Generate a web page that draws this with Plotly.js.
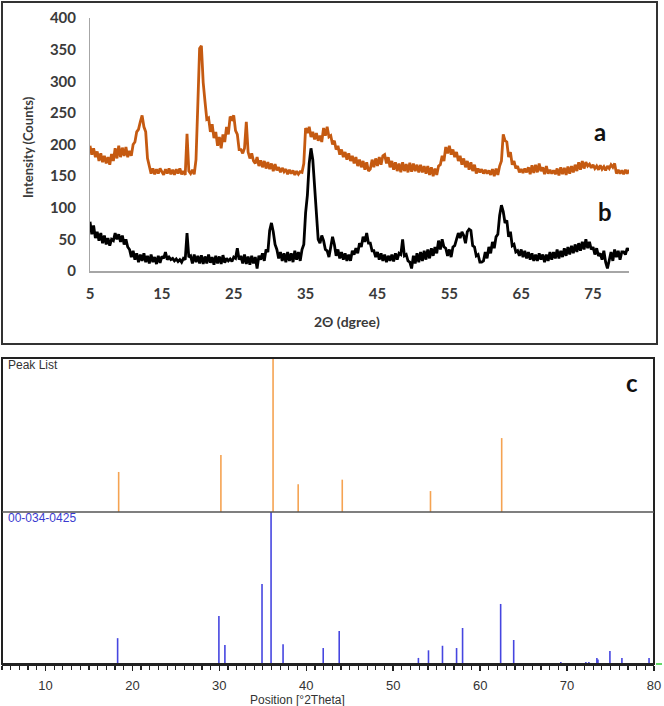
<!DOCTYPE html>
<html>
<head>
<meta charset="utf-8">
<script src="https://cdn.plot.ly/plotly-3.0.1.min.js"></script>
<style>html,body{margin:0;padding:0;background:#fff;}#chart{width:664px;height:706px;}</style>
</head>
<body>
<div id="chart"></div>
<script>
// ---- Top panel: XRD scans (2θ grid: start 5°, step 0.25°) ----
const scanStart = 5;
const scanStep = 0.25;

// sample a (orange)
const seriesA = [
  198,184,194,180, 189,174,186,172, 182,170,180,168, 185,174,194,178, 198,180,195,182,
  196,180,190,182, 200,204,220,224, 236,246,228,220, 178,164,154,162, 153,161,154,162,
  156,152,161,154, 162,153,160,152, 161,154,162,153, 158,152,217,158, 154,160,153,176,
  262,352,356,298, 268,240,242,220, 232,210,220,198, 212,194,216,204, 228,216,244,240,
  246,222,216,192, 192,186,194,236, 188,178,186,174, 170,180,166,175, 164,174,162,172,
  161,170,158,169, 159,164,156,163, 157,161,153,160, 154,159,152,158, 153,157,156,170,
  226,218,228,212, 220,208,218,206, 214,204,226,214, 228,212,214,200, 206,192,198,184,
  192,180,188,176, 186,174,182,170, 180,166,176,164, 174,160,172,158, 161,176,164,178,
  166,180,168,182, 184,170,180,164, 174,160,172,158, 170,156,172,158, 169,156,171,157,
  170,158,168,156, 168,156,166,154, 166,152,164,150, 162,152,166,168, 182,174,196,186,
  198,184,192,180, 188,174,182,168, 178,164,174,160, 172,158,168,154, 162,156,161,154,
  160,154,159,152, 161,150,162,152, 166,174,216,206, 204,180,188,168, 174,162,166,156,
  161,155,162,156, 164,153,167,155, 168,156,170,158, 164,153,166,154, 160,154,159,153,
  162,151,164,153, 163,152,165,154, 166,156,168,158, 172,160,174,162, 172,166,169,163,
  168,162,166,160, 167,161,165,159, 166,162,168,164, 170,154,160,154, 159,153,160,154,
  160
];

// sample b (black)
const seriesB = [
  78,58,72,52, 62,48,60,44, 56,42,52,40, 50,48,60,50, 58,46,56,42,
  50,38,34,22, 32,18,28,14, 26,16,28,14, 24,12,26,14, 22,11,24,13,
  23,20,30,18, 22,18,20,16, 19,15,18,14, 20,18,60,22, 24,12,26,14,
  24,12,25,11, 23,12,26,13, 22,10,24,12, 23,11,25,13, 20,16,19,15,
  22,20,36,18, 24,12,26,11, 23,10,24,12, 22,4,24,18, 28,16,34,30,
  64,76,62,42, 34,20,30,16, 28,14,30,16, 28,14,32,18, 30,16,34,42,
  92,120,170,194, 176,134,80,50, 44,56,48,34, 32,22,38,54, 42,24,34,20,
  30,18,28,16, 26,16,32,26, 36,28,44,38, 54,46,60,44, 44,32,32,22,
  30,18,28,16, 26,14,24,16, 26,15,28,18, 28,26,50,24, 26,16,14,4,
  24,12,28,14, 30,16,32,18, 34,20,36,24, 38,28,48,34, 50,38,36,24,
  34,22,38,40, 50,60,52,62, 56,44,62,66, 64,40,38,24, 26,14,14,16,
  30,20,38,28, 46,36,54,58, 88,104,94,76, 80,54,62,40, 42,30,32,24,
  34,22,32,20, 30,18,28,16, 26,16,28,18, 26,14,26,16, 30,18,30,20,
  34,20,32,22, 36,24,38,26, 40,28,42,30, 44,32,46,34, 50,36,46,34,
  38,26,36,24, 28,18,32,14, 4,18,30,16, 34,22,32,18, 30,30,26,36,
  32
];

const topTickVals = [5, 15, 25, 35, 45, 55, 65, 75];
const topTickText = ['5', '15', '25', '35', '45', '55', '65', '75'];

// ---- Bottom panel: peak list (orange) and reference 00-034-0425 (blue) ----
const peakPos = [18.42, 30.18, 36.18, 39.07, 44.14, 54.29, 62.48];
const peakRel = [26, 37, 100, 18, 21, 13.6, 48];

const refPos = [18.30, 29.95, 30.64, 34.91, 35.95, 37.33, 41.95, 43.79, 52.90, 54.06, 55.67,
                57.29, 57.98, 62.36, 63.86, 69.28, 72.16, 72.51, 73.43, 73.55, 74.93, 76.31, 79.43];
const refRel = [17, 31.6, 12.5, 52.6, 100, 13, 10.5, 21.7, 4, 9, 12,
                10.5, 23.7, 39.5, 15.8, 1.3, 1.3, 1.3, 4, 3, 8.5, 4, 4];

const W = 664, H = 706;
const px = v => v / W;
const py = v => (H - v) / H;

const twoTheta = seriesA.map((_, i) => scanStart + i * scanStep);

function sticks(pos, rel) {
  const xs = [], ys = [];
  pos.forEach((p, i) => { xs.push(p, p, null); ys.push(0, rel[i], null); });
  return {xs, ys};
}
const s1 = sticks(peakPos, peakRel);
const s2 = sticks(refPos, refRel);

const traces = [
  {x: twoTheta, y: seriesA, type: 'scatter', mode: 'lines', xaxis: 'x', yaxis: 'y',
   line: {color: '#C55A11', width: 2.8}, hoverinfo: 'skip'},
  {x: twoTheta, y: seriesB, type: 'scatter', mode: 'lines', xaxis: 'x', yaxis: 'y',
   line: {color: '#000000', width: 2.8}, hoverinfo: 'skip'},
  {x: s1.xs, y: s1.ys, type: 'scatter', mode: 'lines', xaxis: 'x2', yaxis: 'y3',
   line: {color: '#F5A352', width: 1.6}, connectgaps: false, hoverinfo: 'skip'},
  {x: s2.xs, y: s2.ys, type: 'scatter', mode: 'lines', xaxis: 'x2', yaxis: 'y2',
   line: {color: '#4646E0', width: 1.6}, connectgaps: false, hoverinfo: 'skip'}
];

const boldFam = 'Lato, "Open Sans", sans-serif';
const boldFont = {family: boldFam, size: 15, color: '#3a3a3a', weight: 700};
const arial = {family: '"Liberation Sans", Arial, sans-serif', size: 13, color: '#333'};

function note(x, y, text, font, extra) {
  return Object.assign({xref: 'paper', yref: 'paper', x: px(x), y: py(y), text: text,
    showarrow: false, xanchor: 'center', yanchor: 'middle', font: font}, extra || {});
}

const layout = {
  width: W, height: H,
  margin: {l: 0, r: 0, t: 0, b: 0},
  paper_bgcolor: '#fff', plot_bgcolor: 'rgba(0,0,0,0)',
  showlegend: false,
  xaxis: {
    domain: [px(90), px(629)], range: [5, 80], anchor: 'y',
    tickmode: 'array', tickvals: topTickVals, ticktext: topTickText,
    showline: true, linecolor: '#a6a6a6', linewidth: 2,
    ticks: 'outside', ticklen: 8, tickcolor: 'rgba(0,0,0,0)',
    showgrid: false, zeroline: false, tickfont: boldFont
  },
  yaxis: {
    domain: [py(271), py(18)], range: [0, 400], anchor: 'x', dtick: 50,
    showline: true, linecolor: '#a6a6a6', linewidth: 1,
    ticks: 'outside', ticklen: 10, tickcolor: 'rgba(0,0,0,0)',
    showgrid: false, zeroline: false, tickfont: boldFont
  },
  xaxis2: {
    domain: [px(2), px(654)], range: [5, 80], anchor: 'y2',
    tick0: 0, dtick: 10, ticks: 'outside', ticklen: 5, tickwidth: 1.5, tickcolor: '#222',
    ticklabelstandoff: 3,
    minor: {dtick: 1, ticks: 'outside', ticklen: 4, tickwidth: 1.2, tickcolor: '#222', showgrid: false},
    showline: true, linecolor: '#222', linewidth: 2,
    showgrid: false, zeroline: false, tickfont: arial
  },
  yaxis2: {
    domain: [py(664), py(512)], range: [0, 100], anchor: 'x2', visible: false
  },
  yaxis3: {
    domain: [py(512), py(358)], range: [0, 100], anchor: 'x2', visible: false
  },
  shapes: [
    {type: 'rect', xref: 'paper', yref: 'paper', x0: px(2), x1: px(657), y0: py(344), y1: py(2),
     line: {color: '#333', width: 2}, fillcolor: 'rgba(0,0,0,0)'},
    {type: 'rect', xref: 'paper', yref: 'paper', x0: px(2), x1: px(654), y0: py(664), y1: py(358),
     line: {color: '#222', width: 2}, fillcolor: 'rgba(0,0,0,0)'},
    {type: 'line', xref: 'paper', yref: 'paper', x0: px(2), x1: px(654), y0: py(512), y1: py(512),
     line: {color: '#555', width: 1.5}},
    {type: 'line', xref: 'paper', yref: 'paper', x0: px(656), x1: px(662), y0: py(664), y1: py(664),
     line: {color: '#33cc33', width: 1.5}}
  ],
  annotations: [
    note(28, 147, 'Intensity (Counts)', {family: boldFam, size: 13, color: '#3a3a3a', weight: 700}, {textangle: -90}),
    note(347, 322, '2Θ (dgree)', {family: boldFam, size: 14, color: '#3a3a3a', weight: 700}),
    note(600, 132, 'a', {family: boldFam, size: 24, color: '#111', weight: 700}),
    note(605, 211, 'b', {family: boldFam, size: 24, color: '#111', weight: 700}),
    note(632, 382, 'c', {family: boldFam, size: 24, color: '#111', weight: 700}),
    note(6, 365, 'Peak List', {family: '"Liberation Sans", Arial, sans-serif', size: 12, color: '#333'}, {xanchor: 'left'}),
    note(6, 518, '00-034-0425', {family: '"Liberation Sans", Arial, sans-serif', size: 12, color: '#3a3ad0'}, {xanchor: 'left'}),
    note(297, 700, 'Position [°2Theta]', {family: '"Liberation Sans", Arial, sans-serif', size: 12, color: '#333'})
  ]
};

Plotly.newPlot('chart', traces, layout, {staticPlot: true, displayModeBar: false});
</script>
</body>
</html>
